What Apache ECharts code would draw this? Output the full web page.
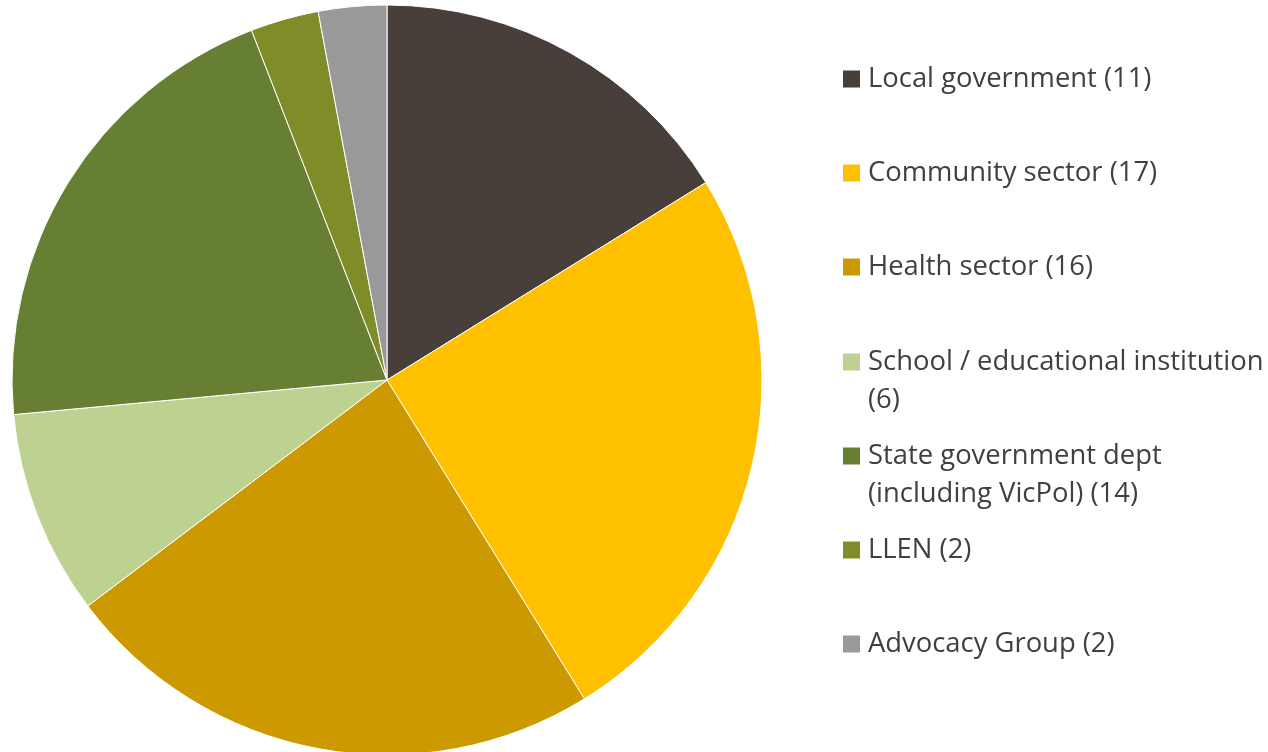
<!DOCTYPE html>
<html>
<head>
<meta charset="utf-8">
<script src="https://cdn.jsdelivr.net/npm/echarts@6/dist/echarts.min.js"></script>
<style>
html,body{margin:0;padding:0;background:#fff;}
#chart{width:1268px;height:752px;}
</style>
</head>
<body>
<div id="chart"></div>
<script>
var categories = [
  'Local government (11)',
  'Community sector (17)',
  'Health sector (16)',
  'School / educational institution\n(6)',
  'State government dept\n(including VicPol) (14)',
  'LLEN (2)',
  'Advocacy Group (2)'
];
var values = [11, 17, 16, 6, 14, 2, 2];
var colors = ['#483F3A', '#FFC000', '#CC9A00', '#BDD290', '#677F33', '#7F8C27', '#999999'];
var markerCenters = [79, 173, 267, 362, 456, 550, 644];

var chart = echarts.init(document.getElementById('chart'));
var LH = 38;
var legends = categories.map(function (name, i) {
  var lines = name.split('\n').length;
  var total = 2 * lines - 1;
  return {
    data: [name],
    left: 843,
    top: markerCenters[i] - total * LH / 2,
    padding: 0,
    orient: 'vertical',
    itemWidth: 17,
    itemHeight: 17,
    itemGap: 0,
    icon: 'rect',
    selectedMode: false,
    itemStyle: { borderWidth: 0 },
    formatter: function (n) {
      var k = n.split('\n').length - 1;
      var pre = '';
      for (var j = 0; j < k; j++) pre += '\n';
      return pre + n;
    },
    textStyle: {
      fontFamily: 'Open Sans',
      fontSize: 27.4,
      color: '#404040',
      lineHeight: LH,
      padding: [0, 0, 0, 3]
    }
  };
});
chart.setOption({
  animation: false,
  color: colors,
  legend: legends,
  series: [{
    type: 'pie',
    center: [387, 380],
    radius: 375,
    startAngle: 90,
    clockwise: true,
    label: { show: false },
    labelLine: { show: false },
    itemStyle: { borderColor: '#ffffff', borderWidth: 1 },
    emphasis: { disabled: true },
    data: categories.map(function (n, i) { return { name: n, value: values[i] }; })
  }]
});
</script>
</body>
</html>
